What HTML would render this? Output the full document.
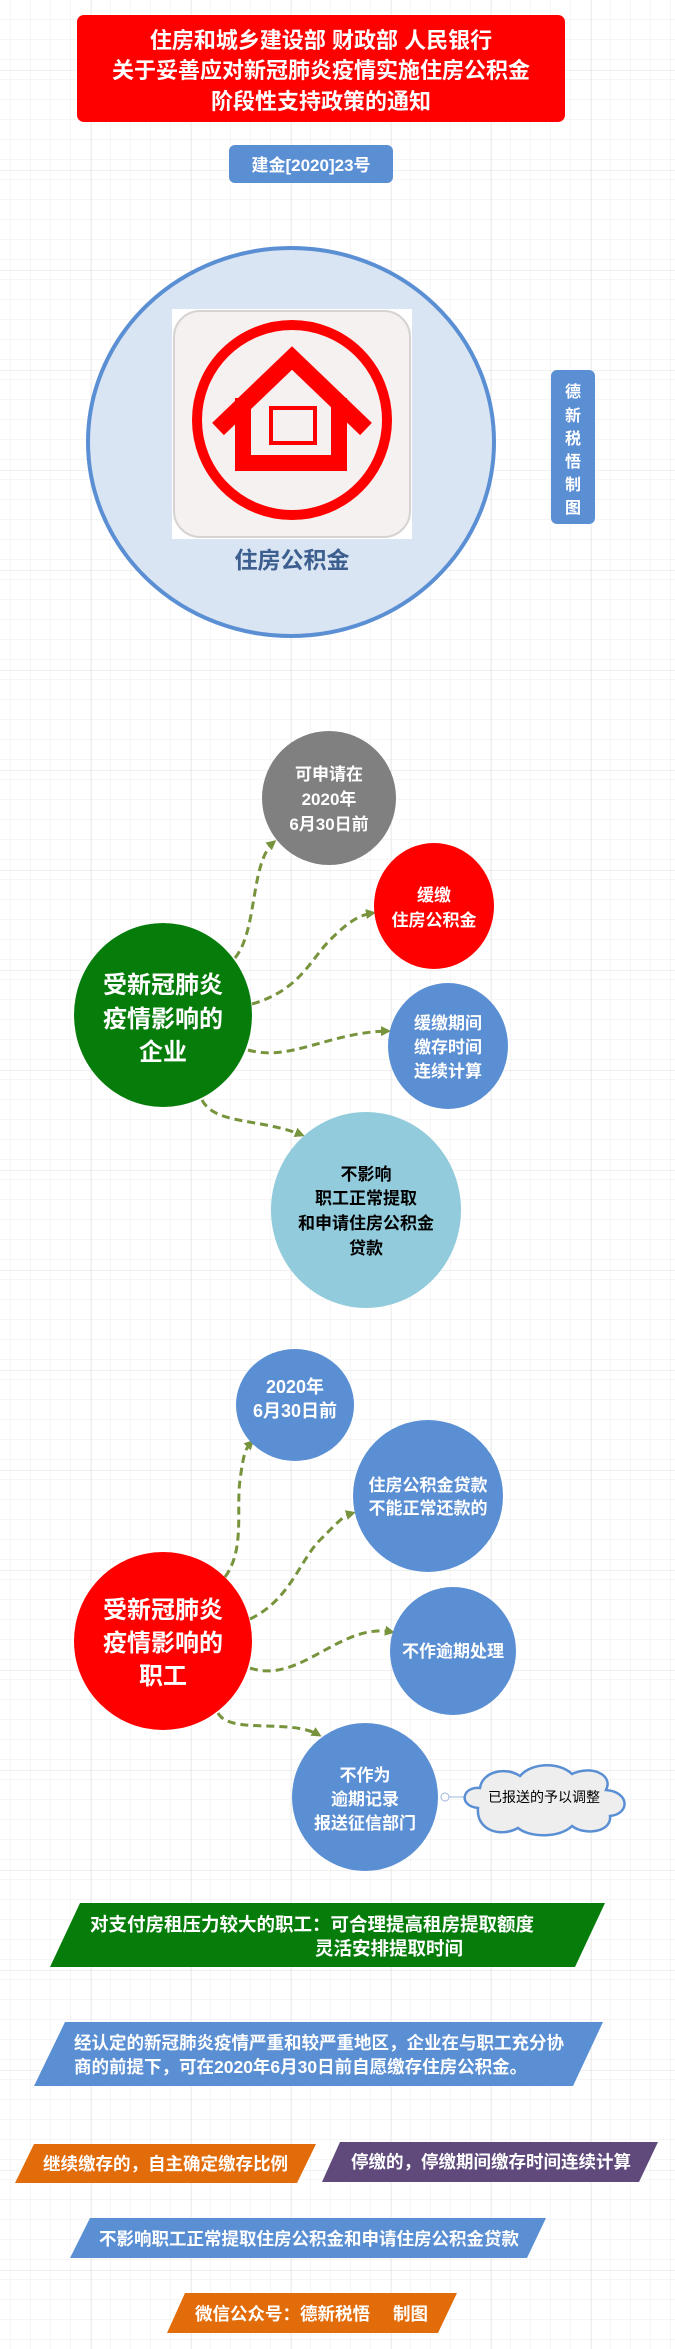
<!DOCTYPE html>
<html><head><meta charset="utf-8"><style>
html,body{margin:0;padding:0;background:#fff;}
svg{display:block;}
text{font-family:"Liberation Sans","Noto Sans CJK SC",sans-serif;font-weight:bold;}
</style></head><body>
<svg width="675" height="2349" viewBox="0 0 675 2349" xmlns="http://www.w3.org/2000/svg">
<defs>
<pattern id="g" width="20" height="20" patternUnits="userSpaceOnUse" x="11" y="0">
<path d="M20 0V20M0 20H20" fill="none" stroke="#ececec" stroke-width="1"/>
</pattern>
<pattern id="g2" width="100" height="100" patternUnits="userSpaceOnUse" x="91" y="70">
<path d="M0 0V100M0 0H100" fill="none" stroke="#e0e0e0" stroke-width="1"/>
</pattern>
<marker id="ar" markerWidth="10" markerHeight="10" refX="7" refY="5" orient="auto" markerUnits="userSpaceOnUse">
<path d="M0,0 L10,5 L0,10 z" fill="#77933c"/>
</marker>
</defs>
<rect width="675" height="2349" fill="#fff"/>
<rect width="675" height="2349" fill="url(#g)"/>
<rect width="675" height="2349" fill="url(#g2)"/>

<!-- title -->
<rect x="77" y="15" width="488" height="107" rx="7" fill="#ff0000"/>
<g fill="#fff" font-size="22" text-anchor="middle">
<text x="321" y="48">住房和城乡建设部 财政部 人民银行</text>
<text x="321" y="78">关于妥善应对新冠肺炎疫情实施住房公积金</text>
<text x="321" y="109">阶段性支持政策的通知</text>
</g>
<rect x="229" y="145" width="164" height="38" rx="6" fill="#5b8fd4"/>
<text x="311" y="171" fill="#fff" font-size="17" text-anchor="middle">建金[2020]23号</text>

<!-- big circle -->
<ellipse cx="291" cy="442" rx="203" ry="194" fill="#dae5f3" stroke="#5b8fd4" stroke-width="4"/>
<rect x="172" y="309" width="240" height="230" fill="#fff"/>
<rect x="174" y="311" width="236" height="226" rx="26" fill="#f5f1f1" stroke="#d6d2d2" stroke-width="2"/>
<circle cx="292" cy="420" r="95" fill="none" stroke="#f00" stroke-width="10"/>
<path d="M218,429 L292,358 L366,429" fill="none" stroke="#f00" stroke-width="17"/>
<path d="M243,398 V463 H339 V398" fill="none" stroke="#f00" stroke-width="16"/>
<rect x="271" y="408" width="44" height="35" fill="none" stroke="#f00" stroke-width="4"/>
<text x="292" y="568" fill="#3c5f8f" font-size="23" text-anchor="middle">住房公积金</text>

<rect x="551" y="370" width="44" height="154" rx="6" fill="#5b8fd4"/>
<g fill="#fff" font-size="16" text-anchor="middle">
<text x="573" y="397">德</text><text x="573" y="421">新</text><text x="573" y="444">税</text>
<text x="573" y="467">悟</text><text x="573" y="490">制</text><text x="573" y="513">图</text>
</g>

<!-- section 1 connectors -->
<g fill="none" stroke="#77933c" stroke-width="3" stroke-dasharray="8 5" marker-end="url(#ar)">
<path d="M235,958 C258,930 250,862 274,842"/>
<path d="M252,1004 C300,990 310,960 330,940 S360,915 373,913"/>
<path d="M248,1050 C290,1062 330,1032 388,1031"/>
<path d="M202,1100 C215,1125 260,1118 302,1135"/>
</g>
<circle cx="329" cy="798" r="67" fill="#808080"/>
<g fill="#fff" font-size="17" text-anchor="middle">
<text x="329" y="780">可申请在</text><text x="329" y="805">2020年</text><text x="329" y="830">6月30日前</text>
</g>
<ellipse cx="434" cy="906" rx="60" ry="63" fill="#ff0000"/>
<g fill="#fff" font-size="17" text-anchor="middle">
<text x="434" y="901">缓缴</text><text x="434" y="926">住房公积金</text>
</g>
<ellipse cx="163" cy="1015" rx="89" ry="92" fill="#067d0a"/>
<g fill="#fff" font-size="24" text-anchor="middle">
<text x="163" y="993">受新冠肺炎</text><text x="163" y="1027">疫情影响的</text><text x="163" y="1060">企业</text>
</g>
<ellipse cx="448" cy="1046" rx="60" ry="63" fill="#5b8fd4"/>
<g fill="#fff" font-size="17" text-anchor="middle">
<text x="448" y="1029">缓缴期间</text><text x="448" y="1053">缴存时间</text><text x="448" y="1077">连续计算</text>
</g>
<ellipse cx="366" cy="1210" rx="95" ry="98" fill="#92cbdc"/>
<g fill="#000" font-size="17" text-anchor="middle">
<text x="366" y="1180">不影响</text><text x="366" y="1204">职工正常提取</text><text x="366" y="1229">和申请住房公积金</text><text x="366" y="1254">贷款</text>
</g>

<!-- section 2 connectors -->
<g fill="none" stroke="#77933c" stroke-width="3" stroke-dasharray="8 5" marker-end="url(#ar)">
<path d="M225,1577 C245,1550 236,1510 240,1480 S246,1448 252,1442"/>
<path d="M250,1619 C290,1600 300,1560 320,1540 S343,1516 353,1513"/>
<path d="M250,1668 C300,1685 340,1622 392,1632"/>
<path d="M218,1713 C230,1735 290,1718 319,1735"/>
</g>
<ellipse cx="295" cy="1405" rx="59" ry="56" fill="#5b8fd4"/>
<g fill="#fff" font-size="18" text-anchor="middle">
<text x="295" y="1393">2020年</text><text x="295" y="1417">6月30日前</text>
</g>
<ellipse cx="428" cy="1496" rx="75" ry="76" fill="#5b8fd4"/>
<g fill="#fff" font-size="17" text-anchor="middle">
<text x="428" y="1491">住房公积金贷款</text><text x="428" y="1514">不能正常还款的</text>
</g>
<ellipse cx="163" cy="1641" rx="89" ry="89" fill="#ff0000"/>
<g fill="#fff" font-size="24" text-anchor="middle">
<text x="163" y="1618">受新冠肺炎</text><text x="163" y="1651">疫情影响的</text><text x="163" y="1684">职工</text>
</g>
<ellipse cx="453" cy="1651" rx="63" ry="64" fill="#5b8fd4"/>
<text x="453" y="1657" fill="#fff" font-size="17" text-anchor="middle">不作逾期处理</text>
<ellipse cx="365" cy="1797" rx="73" ry="74" fill="#5b8fd4"/>
<g fill="#fff" font-size="17" text-anchor="middle">
<text x="365" y="1781">不作为</text><text x="365" y="1805">逾期记录</text><text x="365" y="1829">报送征信部门</text>
</g>
<line x1="449" y1="1797" x2="470" y2="1797" stroke="#9db4dc" stroke-width="1"/>
<circle cx="445" cy="1797" r="4" fill="#fff" stroke="#9db4dc"/>
<path d="M478,1808 C458,1806 462,1786 480,1788 C482,1772 505,1766 520,1776 C532,1762 560,1762 572,1774 C590,1765 614,1774 606,1790 C630,1792 630,1814 610,1816 C612,1832 585,1836 572,1826 C560,1838 530,1838 518,1828 C500,1838 476,1830 478,1808 Z" fill="#eeeeee" stroke="#5b8fd4" stroke-width="2.5"/>
<text x="544" y="1802" fill="#000" font-size="14" text-anchor="middle" style="font-weight:normal">已报送的予以调整</text>

<!-- bottom banners -->
<polygon points="80,1903 605,1903 575,1967 50,1967" fill="#067d0a"/>
<text x="90" y="1931" fill="#fff" font-size="18.5">对支付房租压力较大的职工：可合理提高租房提取额度</text>
<text x="389" y="1955" fill="#fff" font-size="18.5" text-anchor="middle">灵活安排提取时间</text>

<polygon points="65,2022 603,2022 573,2086 34,2086" fill="#5b8fd4"/>
<text x="74" y="2049" fill="#fff" font-size="17.5">经认定的新冠肺炎疫情严重和较严重地区，企业在与职工充分协</text>
<text x="74" y="2073" fill="#fff" font-size="17.5">商的前提下，可在2020年6月30日前自愿缴存住房公积金。</text>

<polygon points="34,2144 316,2144 297,2183 15,2183" fill="#e36c0a"/>
<text x="43" y="2170" fill="#fff" font-size="17.5">继续缴存的，自主确定缴存比例</text>
<polygon points="340,2142 658,2142 639,2182 322,2182" fill="#5f4a7b"/>
<text x="351" y="2168" fill="#fff" font-size="17.5">停缴的，停缴期间缴存时间连续计算</text>

<polygon points="90,2218 546,2218 527,2258 70,2258" fill="#5b8fd4"/>
<text x="99" y="2245" fill="#fff" font-size="17.5">不影响职工正常提取住房公积金和申请住房公积金贷款</text>

<polygon points="185,2293 457,2293 438,2333 167,2333" fill="#e36c0a"/>
<text x="195" y="2320" fill="#fff" font-size="17.5">微信公众号：德新税悟</text>
<text x="393" y="2320" fill="#fff" font-size="17.5">制图</text>
</svg>
</body></html>
